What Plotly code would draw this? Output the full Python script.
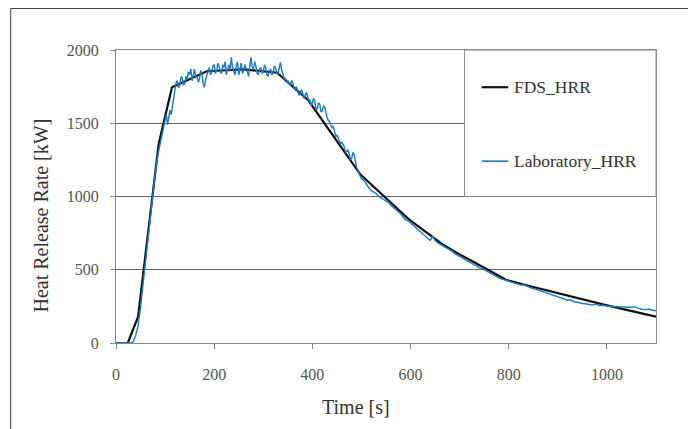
import plotly.graph_objects as go

# FDS simulation heat release rate (kW) vs time (s)
fds_time = [0, 24, 45, 87, 114, 185, 260, 328, 392, 498, 548, 596, 666, 705, 754, 794, 844, 1000, 1100]
fds_hrr = [0, 0, 180, 1360, 1745, 1855, 1868, 1845, 1655, 1150, 995, 846, 671, 595, 507, 432, 387, 257, 180]

# Laboratory heat release rate (kW)
# rise: every 5 s, 0-95 s
lab_hrr_rise = [
    0, 0, 0, 0, 0, 0, 0, 10, 50, 120,
    240, 400, 560, 720, 870, 1030, 1160, 1280, 1360, 1450,
]
# peak: every 2.5 s, 100-497.5 s
lab_hrr_peak = [
    1520, 1560, 1490, 1540, 1590, 1560, 1610, 1680,   # 100-117.5
    1720, 1780, 1790, 1740, 1760, 1820, 1810, 1760,   # 120-137.5
    1770, 1820, 1800, 1850, 1830, 1870, 1790, 1840,   # 140-157.5
    1870, 1810, 1820, 1780, 1800, 1860, 1840, 1770,   # 160-177.5
    1745, 1800, 1830, 1860, 1880, 1830, 1850, 1890,   # 180-197.5
    1900, 1840, 1860, 1910, 1890, 1850, 1840, 1900,   # 200-217.5
    1880, 1920, 1830, 1870, 1900, 1860, 1950, 1880,   # 220-237.5
    1860, 1830, 1890, 1920, 1830, 1870, 1910, 1840,   # 240-257.5
    1860, 1900, 1880, 1850, 1820, 1890, 1950, 1880,   # 260-277.5
    1870, 1920, 1890, 1840, 1830, 1870, 1880, 1840,   # 280-297.5
    1850, 1900, 1880, 1830, 1820, 1860, 1870, 1830,   # 300-317.5
    1840, 1890, 1880, 1840, 1830, 1880, 1915, 1860,   # 320-337.5
    1840, 1800, 1810, 1780, 1790, 1770, 1760, 1790,   # 340-357.5
    1780, 1740, 1730, 1750, 1720, 1690, 1700, 1730,   # 360-377.5
    1710, 1670, 1680, 1710, 1690, 1650, 1660, 1620,   # 380-397.5
    1640, 1670, 1650, 1590, 1600, 1640, 1630, 1580,   # 400-417.5
    1580, 1620, 1610, 1560, 1540, 1520, 1510, 1490,   # 420-437.5
    1470, 1480, 1450, 1410, 1420, 1400, 1390, 1360,   # 440-457.5
    1370, 1350, 1340, 1300, 1310, 1320, 1290, 1250,   # 460-477.5
    1260, 1300, 1290, 1230, 1200, 1180, 1160, 1140,   # 480-497.5
]
# decay: every 5 s, 500-1100 s
lab_hrr_decay = [
    1120, 1110, 1080, 1060, 1040, 1030, 1020, 1000, 990, 985,        # 500-545
    970, 960, 940, 925, 910, 900, 880, 860, 840, 835,                # 550-595
    820, 800, 785, 770, 755, 745, 730, 715, 700, 730,                # 600-645
    700, 685, 675, 665, 655, 650, 635, 625, 610, 600,                # 650-695
    590, 585, 575, 560, 550, 545, 535, 525, 515, 510,                # 700-745
    500, 495, 480, 470, 460, 452, 445, 438, 432, 428,                # 750-795
    420, 415, 408, 405, 400, 395, 398, 390, 385, 378,                # 800-845
    370, 368, 362, 355, 350, 345, 340, 335, 325, 320,                # 850-895
    315, 310, 305, 300, 292, 295, 285, 280, 278, 272,                # 900-945
    270, 268, 265, 262, 260, 265, 258, 256, 258, 255,                # 950-995
    256, 250, 252, 248, 250, 246, 248, 245, 244, 246,                # 1000-1045
    242, 248, 240, 236, 232, 230, 228, 232, 226, 222,                # 1050-1095
    220,                                                              # 1100
]
lab_time = (list(range(0, 100, 5))
            + [100 + 2.5 * i for i in range(len(lab_hrr_peak))]
            + list(range(500, 1101, 5)))
lab_hrr = lab_hrr_rise + lab_hrr_peak + lab_hrr_decay

x_ticks = [0, 200, 400, 600, 800, 1000]
y_ticks = [0, 500, 1000, 1500, 2000]
series_names = ["FDS_HRR", "Laboratory_HRR"]
x_title = "Time [s]"
y_title = "Heat Release Rate [kW]"

BLUE = "#1a7bc9"
FONT = "Liberation Serif, DejaVu Serif, serif"

fig = go.Figure()
fig.add_trace(go.Scatter(x=fds_time, y=fds_hrr, mode="lines", name=series_names[0],
                         line=dict(color="#111111", width=2.2), showlegend=False))
fig.add_trace(go.Scatter(x=lab_time, y=lab_hrr, mode="lines", name=series_names[1],
                         line=dict(color=BLUE, width=1.4), showlegend=False))

axis_common = dict(showline=True, linecolor="#888888", linewidth=1, mirror=True,
                   ticks="outside", ticklen=5, tickcolor="#888888",
                   tickfont=dict(family=FONT, size=16, color="#555555"),
                   zeroline=False)
fig.update_xaxes(range=[0, 1100], tickvals=x_ticks, showgrid=False,
                 ticklabelstandoff=12, **axis_common)
fig.update_yaxes(range=[0, 2000], tickvals=y_ticks, showgrid=True,
                 gridcolor="#666666", gridwidth=1, ticklabelstandoff=8, **axis_common)

# plot area in screen pixels: left 116, top 50, width 540, height 293
PX0, PY0, PW, PH = 116.0, 50.0, 540.0, 293.0


def px(xp):
    return (xp - PX0) / PW


def py(yp):
    return (PY0 + PH - yp) / PH


shapes = []
# legend box (white, hides gridlines, below traces)
shapes.append(dict(type="rect", xref="x", yref="y", x0=710, x1=1100, y0=1000, y1=2000,
                   fillcolor="white", line=dict(color="#888888", width=1), layer="between"))
# legend samples
shapes.append(dict(type="line", xref="x", yref="y", x0=745, x1=799, y0=1746, y1=1746,
                   line=dict(color="#111111", width=2.2)))
shapes.append(dict(type="line", xref="x", yref="y", x0=745, x1=799, y0=1241, y1=1241,
                   line=dict(color=BLUE, width=1.6)))
# outer frame (left and top)
shapes.append(dict(type="line", xref="paper", yref="paper", x0=px(10.7), x1=px(10.7),
                   y0=py(8.5), y1=py(440), line=dict(color="#444444", width=1)))
shapes.append(dict(type="line", xref="paper", yref="paper", x0=px(10.7), x1=px(710),
                   y0=py(8.5), y1=py(8.5), line=dict(color="#444444", width=1)))

annotations = [
    dict(x=807, y=1746, xref="x", yref="y", text=series_names[0], showarrow=False,
         xanchor="left", yanchor="middle", font=dict(family=FONT, size=17.5, color="#333333")),
    dict(x=807, y=1241, xref="x", yref="y", text=series_names[1], showarrow=False,
         xanchor="left", yanchor="middle", font=dict(family=FONT, size=17.5, color="#333333")),
    dict(x=px(356), y=py(407), xref="paper", yref="paper",
         text=x_title, showarrow=False, xanchor="center", yanchor="middle",
         font=dict(family=FONT, size=20, color="#333333")),
    dict(x=px(40.5), y=py(216), xref="paper", yref="paper",
         text=y_title, showarrow=False, textangle=-90, xanchor="center", yanchor="middle",
         font=dict(family=FONT, size=20, color="#333333")),
]

# page body has an 8px margin; compensate so the plot area lands at the target pixels
fig.update_layout(
    width=688, height=421,
    margin=dict(l=108, r=40, t=42, b=86),
    paper_bgcolor="white", plot_bgcolor="white",
    shapes=shapes, annotations=annotations,
    showlegend=False,
)

fig.write_html("out.html")
